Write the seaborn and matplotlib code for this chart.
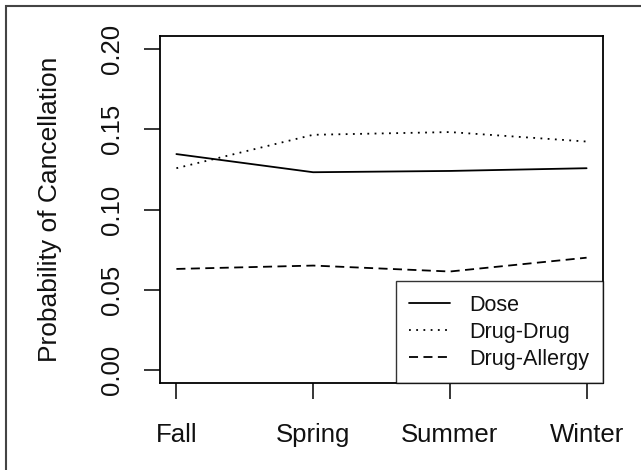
import numpy as np
import pandas as pd
import matplotlib
matplotlib.use("Agg")
import matplotlib.pyplot as plt
from matplotlib.lines import Line2D
from matplotlib.patches import Rectangle
import seaborn as sns

seasons = ["Fall", "Spring", "Summer", "Winter"]
dose = [0.1345, 0.1232, 0.1240, 0.1257]
drug_drug = [0.1257, 0.1465, 0.1482, 0.1423]
drug_allergy = [0.0630, 0.0651, 0.0614, 0.0700]
series_names = ["Dose", "Drug-Drug", "Drug-Allergy"]
y_ticks = [0.00, 0.05, 0.10, 0.15, 0.20]

df = pd.DataFrame({
    "season": seasons * 3,
    "prob": dose + drug_drug + drug_allergy,
    "type": [n for n in series_names for _ in seasons],
})
df["x"] = df["season"].map({s: i for i, s in enumerate(seasons)})

sns.set_style("white")
plt.rcParams["font.family"] = ["Liberation Sans", "DejaVu Sans"]

fig = plt.figure(figsize=(6.41, 4.70), dpi=100)
ax = fig.add_axes([160 / 641, 1 - 383 / 470, 443 / 641, 347 / 470])

lw = 1.3
dashes = {"Dose": "", "Drug-Drug": (1, 3), "Drug-Allergy": (5, 3)}
sns.lineplot(data=df, x="x", y="prob", style="type", style_order=series_names,
             dashes=dashes, color="black", linewidth=lw, ax=ax, legend=False,
             markers=False)

ax.set_xlim(-0.12, 3.12)
ax.set_ylim(-0.008, 0.208)
ax.set_xticks(range(len(seasons)))
ax.set_xticklabels(seasons)
ax.set_yticks(y_ticks)
ax.set_yticklabels([f"{v:.2f}" for v in y_ticks], rotation=90, va="center")
ax.set_xlabel("")
ax.set_ylabel("Probability of Cancellation", fontsize=19, color="#111111")
ax.yaxis.set_label_coords(-0.222, 0.5)

ax.tick_params(axis="both", which="major", direction="out", length=11.5,
               width=1.1, color="black", labelsize=18.5, labelcolor="#111111",
               bottom=True, left=True, top=False, right=False)
ax.tick_params(axis="x", pad=17)
ax.tick_params(axis="y", pad=14.5)
for sp in ax.spines.values():
    sp.set_visible(True)
    sp.set_color("black")
    sp.set_linewidth(1.3)

handles = [Line2D([], [], color="black", lw=lw, linestyle=(0, dashes[n]) if dashes[n] else "-")
           for n in series_names]
leg = ax.legend(handles, series_names, loc="lower right", bbox_to_anchor=(1.0, 0.0),
                borderaxespad=0, fontsize=15.5, frameon=True, fancybox=False,
                handlelength=1.9, handletextpad=0.9, borderpad=0.62, labelspacing=0.28)
leg.get_frame().set_edgecolor("black")
leg.get_frame().set_linewidth(1.0)
for t in leg.get_texts():
    t.set_color("#111111")

fig.patches.append(Rectangle((6 / 641, -0.1), 1.2, 1 - 6 / 470 + 0.1,
                             transform=fig.transFigure, fill=False,
                             edgecolor="#444444", linewidth=1.5))

fig.savefig("out.png", dpi=100)
